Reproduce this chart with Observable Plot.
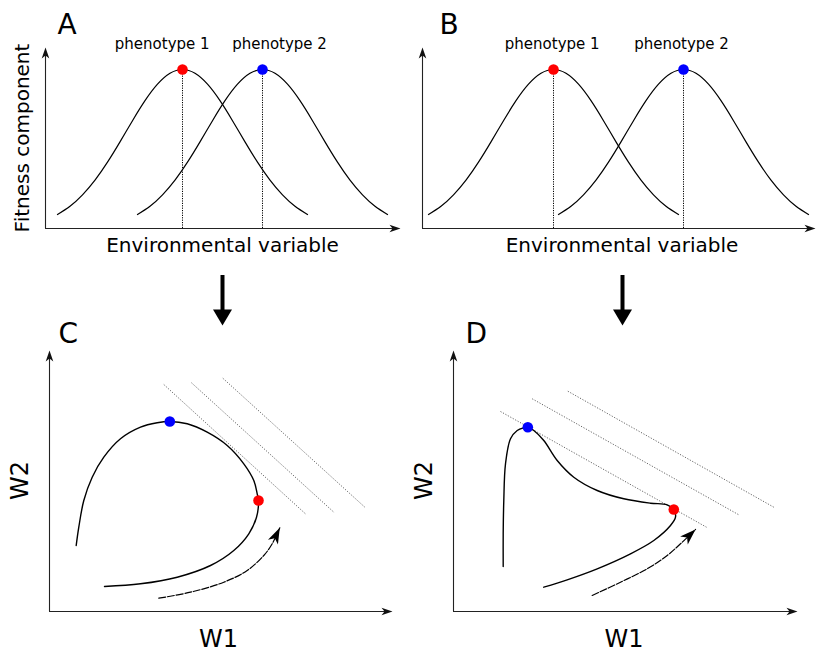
<!DOCTYPE html>
<html><head><meta charset="utf-8">
<script src="https://cdn.jsdelivr.net/npm/d3@7"></script>
<script src="https://cdn.jsdelivr.net/npm/@observablehq/plot@0.6"></script>
<style>
html,body{margin:0;padding:0;background:#fff;}
#fig{position:relative;width:816px;height:652px;overflow:hidden;}
#fig > svg{position:absolute;}
</style></head><body><div id="fig"></div>
<script>
// ---------- data ----------
const phenotypes = ["phenotype 1", "phenotype 2"];
const phenoColors = ["#ff0000", "#0000ff"];
// fitness profile around each phenotype's optimum (environment offset, fitness)
const profileOffset = [-125,-112.5,-100,-87.5,-75,-62.5,-50,-37.5,-25,-12.5,0,12.5,25,37.5,50,62.5,75,87.5,100,112.5,125];
const profileFitness = [14,22.2,33.6,48.3,66.3,86.6,107.8,127.8,144.3,155.2,159,155.2,144.3,127.8,107.8,86.6,66.3,48.3,33.6,22.2,14];
const optimaA = [137, 217];
const optimaB = [131, 261];

// panel C: W1/W2 curve
const curveC_W1 = [26.7,29.3,34.3,42.7,54.3,71,91,107.7,120.3,137.7,157.7,177.7,194.3,204.3,207.7,209,207,199.3,184.3,161,127.7,91,55];
const curveC_W2 = [66,84.3,111,134.3,154.3,172.7,184.3,188.7,190,187.7,179.3,166,147.7,131,117.7,111,94.3,77.7,61,46,34.3,27.7,25];
const phenoC_W1 = [209, 120.3];
const phenoC_W2 = [111, 190];
const dashC_W1 = [109.3,141,174.3,197.7,214.3,222.7,230.3];
const dashC_W2 = [13.3,19.3,29.3,41,56,67.7,83.7];
const isoC = [[114.3,227,256.7,97],[142,228.7,285,98.7],[173.3,233.3,316,103.7]];

// panel D
const curveD_W1 = [49.7,49.7,50.3,52,57,63.7,70.3,74.3,80.3,90.3,103.7,120.3,143.7,170.3,197,213.7,220.3,222,217,200.3,177,143.7,113.7,90.3];
const curveD_W2 = [45,77.7,111,147.7,172.7,181,183.7,184.3,181,171,151,134.3,121,112.7,108.3,106.7,102,94.3,86,71,57.7,42.7,31.7,24.3];
const phenoD_W1 = [220.3, 74.3];
const phenoD_W2 = [102, 184.3];
const dashD_W1 = [138.7,167,193.7,213.7,227,242];
const dashD_W2 = [16,29.3,42.7,56,67.7,82];
const isoD = [[47,200,253,84.3],[78.7,212.7,285.3,96.7],[114.3,220.3,320.3,104.3]];

// ---------- helpers ----------
const FONT = "DejaVu Sans, sans-serif";
const headSymbol = (len, half, notch) => ({
  draw(ctx, size) {
    const k = Math.sqrt(size / Math.PI) / 4;
    ctx.moveTo(0, 0);
    ctx.lineTo(-len * k, -half * k);
    ctx.lineTo(-(len - notch) * k, 0);
    ctx.lineTo(-len * k, half * k);
    ctx.closePath();
  }
});
const axisHead = headSymbol(11, 3.8, 3);
const dashHead = headSymbol(11, 3.8, 3);
const blockHead = headSymbol(16, 9.5, 0);
const zip = (a, b) => a.map((v, i) => ({x: v, y: b[i]}));

function axes(xLen, yLen) {
  return [
    Plot.ruleY([0], {x1: 0, x2: xLen - 6, stroke: "#222", strokeWidth: 1.1}),
    Plot.ruleX([0], {y1: 0, y2: yLen - 6, stroke: "#222", strokeWidth: 1.1}),
    Plot.dot([{x: xLen, y: 0}], {x: "x", y: "y", symbol: axisHead, r: 4, rotate: 0, fill: "#111", stroke: "none"}),
    Plot.dot([{x: 0, y: yLen}], {x: "x", y: "y", symbol: axisHead, r: 4, rotate: -90, fill: "#111", stroke: "none"})
  ];
}
function label(text, dx, dy, size, extra = {}) {
  return Plot.text([text], {frameAnchor: "top-left", text: d => d, dx, dy, fontSize: size, fill: "#000", ...extra});
}
function panel({left, top, width, height, ox, oy, xLen, yLen, marks}) {
  const svg = Plot.plot({
    width, height, margin: 0,
    x: {domain: [0, xLen], range: [ox, ox + xLen], axis: null},
    y: {domain: [0, yLen], range: [oy, oy - yLen], axis: null},
    color: {type: "identity"},
    style: {fontFamily: FONT, background: "transparent", overflow: "visible"},
    marks
  });
  svg.style.left = left + "px";
  svg.style.top = top + "px";
  document.getElementById("fig").appendChild(svg);
}

function fitnessPanel(opts, optima, letter, letterDx, labelDx) {
  const maxFit = d3.max(profileFitness);
  const rows = optima.flatMap((o, i) => profileOffset.map((d, j) => ({p: phenotypes[i], env: o + d, fit: profileFitness[j]})));
  const peaks = optima.map((o, i) => ({p: phenotypes[i], env: o, fit: maxFit, c: phenoColors[i]}));
  panel({...opts, marks: [
    ...axes(opts.xLen, opts.yLen),
    Plot.ruleX(optima, {y1: 0, y2: maxFit, stroke: "#000", strokeWidth: 1, strokeDasharray: "1.2,1.2"}),
    Plot.line(rows, {x: "env", y: "fit", z: "p", curve: "natural", stroke: "#000", strokeWidth: 1.2}),
    Plot.dot(peaks, {x: "env", y: "fit", fill: "c", r: 5.3, stroke: "none"}),
    Plot.text([peaks[0]], {x: "env", y: "fit", text: "p", dx: labelDx[0], dy: -25, fontSize: 15, fill: "#000"}),
    Plot.text([peaks[1]], {x: "env", y: "fit", text: "p", dx: labelDx[1], dy: -25, fontSize: 15, fill: "#000"}),
    label(letter, letterDx, 13.5, 28),
    label("Environmental variable", opts.envLabelX, 237.5, 20, {textAnchor: "middle"}),
    ...(opts.yLabel ? [label(opts.yLabel, 21.9, 137.5, 20, {textAnchor: "middle", lineAnchor: "middle", rotate: -90})] : [])
  ]});
}

function traitPanel(opts, curve, pheno, dash, iso, letter, letterDx, w2X, w1X, bigX) {
  const n = dash.length;
  const a = dash[n - 2], b = dash[n - 1];
  const ang = -Math.atan2(b.y - a.y, b.x - a.x) * 180 / Math.PI;
  const pts = pheno.map((d, i) => ({...d, c: phenoColors[i]}));
  panel({...opts, marks: [
    ...axes(opts.xLen, opts.yLen),
    Plot.link(iso, {x1: d => d[0], y1: d => d[1], x2: d => d[2], y2: d => d[3], stroke: "#555", strokeWidth: 0.9, strokeDasharray: "1.2,1.6"}),
    Plot.line(curve, {x: "x", y: "y", curve: "catmull-rom", stroke: "#000", strokeWidth: 1.4}),
    Plot.line(dash, {x: "x", y: "y", curve: "catmull-rom", stroke: "#000", strokeWidth: 1.2, strokeDasharray: "7,1.8"}),
    Plot.dot([b], {x: "x", y: "y", symbol: dashHead, r: 5.8, rotate: ang, fill: "#000", stroke: "none"}),
    Plot.dot(pts, {x: "x", y: "y", fill: "c", r: 5.3, stroke: "none"}),
    // transition arrow from the panel above
    Plot.ruleX([bigX], {y1: opts.yLen + 75, y2: opts.yLen + 38, stroke: "#000", strokeWidth: 4}),
    Plot.dot([{x: bigX, y: opts.yLen + 25}], {x: "x", y: "y", symbol: blockHead, r: 4, rotate: 90, fill: "#000", stroke: "none"}),
    label(letter, letterDx, 62.5, 28),
    label("W2", w2X, 220, 24, {textAnchor: "middle", lineAnchor: "middle", rotate: -90}),
    label("W1", w1X, 369, 24, {textAnchor: "middle"})
  ]});
}

// ---------- panels ----------
fitnessPanel({left: 0, top: 0, width: 410, height: 260, ox: 45, oy: 228, xLen: 355, yLen: 181, envLabelX: 222, yLabel: "Fitness component"},
  optimaA, "A", 57, [-20.3, 17]);
fitnessPanel({left: 410, top: 0, width: 406, height: 260, ox: 12, oy: 228, xLen: 393, yLen: 181, envLabelX: 211.5},
  optimaB, "B", 29, [-1.3, -2]);
traitPanel({left: 0, top: 260, width: 410, height: 392, ox: 49, oy: 351, xLen: 343, yLen: 261},
  zip(curveC_W1, curveC_W2), zip(phenoC_W1, phenoC_W2), zip(dashC_W1, dashC_W2), isoC, "C", 58, 20.3, 218, 173);
traitPanel({left: 410, top: 260, width: 406, height: 392, ox: 43, oy: 351, xLen: 344, yLen: 261},
  zip(curveD_W1, curveD_W2), zip(phenoD_W1, phenoD_W2), zip(dashD_W1, dashD_W2), isoD, "D", 55, 14.3, 213.5, 169);
</script></body></html>
